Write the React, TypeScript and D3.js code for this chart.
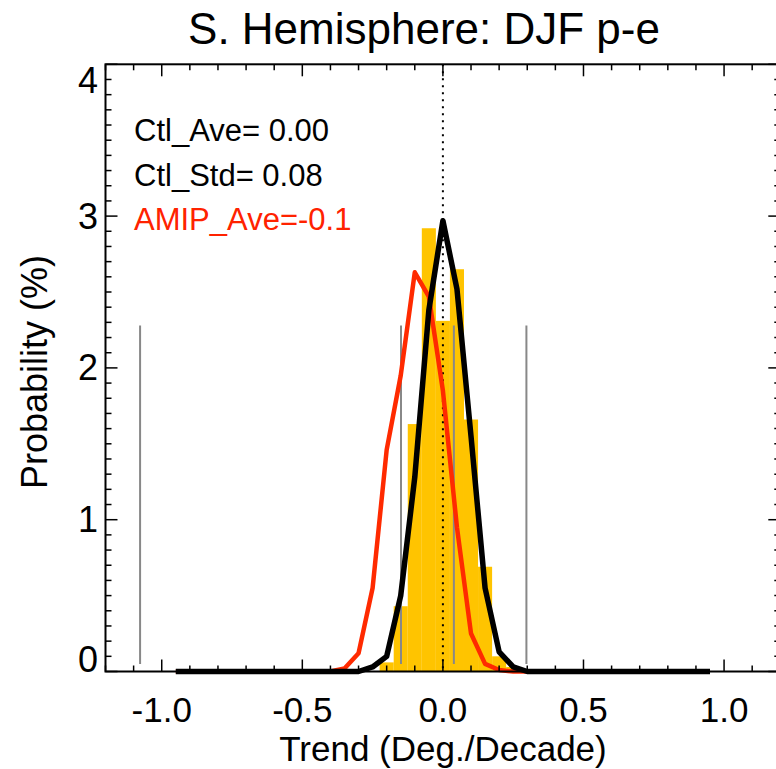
import React from "react";
import * as d3 from "d3";

const TITLE = "S. Hemisphere: DJF p-e";
const X_LABEL = "Trend (Deg./Decade)";
const Y_LABEL = "Probability (%)";

const xMajorTicks = [-1.0, -0.5, 0.0, 0.5, 1.0];
const xTickLabels = ["-1.0", "-0.5", "0.0", "0.5", "1.0"];
const yMajorTicks = [0, 1, 2, 3, 4];
const yTickLabels = ["0", "1", "2", "3", "4"];

// histogram (bin centres, width 0.05)
const barCenters = [-0.2, -0.15, -0.1, -0.05, 0.0, 0.05, 0.1, 0.15, 0.2, 0.25];
const barValues = [0.06, 0.43, 1.63, 2.92, 2.31, 2.65, 1.66, 0.69, 0.1, 0.03];
const barWidth = 0.05;

// PDF curves
const pdfX = [
  -0.95, -0.9, -0.85, -0.8, -0.75, -0.7, -0.65, -0.6, -0.55, -0.5, -0.45, -0.4, -0.35,
  -0.3, -0.25, -0.2, -0.15, -0.1, -0.05, 0.0, 0.05, 0.1, 0.15, 0.2, 0.25, 0.3, 0.35,
  0.4, 0.45, 0.5, 0.55, 0.6, 0.65, 0.7, 0.75, 0.8, 0.85, 0.9, 0.95,
];
const ctlPdf = [
  0, 0, 0, 0, 0, 0, 0, 0, 0, 0, 0, 0, 0,
  0, 0.03, 0.1, 0.5, 1.28, 2.38, 2.97, 2.52, 1.55, 0.55, 0.13, 0.03, 0, 0,
  0, 0, 0, 0, 0, 0, 0, 0, 0, 0, 0, 0,
];
const amipPdf = [
  0, 0, 0, 0, 0, 0, 0, 0, 0, 0, 0, 0, 0.02,
  0.12, 0.55, 1.46, 1.95, 2.63, 2.47, 1.85, 0.95, 0.25, 0.05, 0.01, 0, 0, 0,
  0, 0, 0, 0, 0, 0, 0, 0, 0, 0, 0, 0,
];

// grey vertical markers
const markerX = [-1.077, -0.149, 0.039, 0.297];
const markerTop = 2.28;
const markerBottom = 0.05;

const legendLines = ["Ctl_Ave= 0.00", "Ctl_Std= 0.08", "AMIP_Ave=-0.1"];
const legendColors = ["#000000", "#000000", "#ff2200"];

const FONT = "'Liberation Sans', Arial, Helvetica, sans-serif";

export default function App() {
  const W = 776;
  const H = 769;
  const x = d3.scaleLinear().domain([-1.2, 1.2]).range([105.5, 780.3]);
  const y = d3.scaleLinear().domain([0, 4]).range([671.5, 64.3]);
  const [x0, x1] = x.range();
  const [yb, yt] = y.range();

  const xMinor = x.ticks(24);
  const yMinor = y.ticks(40);
  const isMajor = (v: number, arr: number[]) => arr.some((m) => Math.abs(m - v) < 1e-6);

  const line = d3
    .line<number>()
    .x((_, i) => x(pdfX[i]))
    .y((d) => y(d));

  const majorLen = 12;
  const minorLen = 6;

  return (
    <svg
      width={W}
      height={H}
      style={{ position: "absolute", left: 0, top: 0, background: "#fff" }}
      fontFamily={FONT}
    >
      <rect x={0} y={0} width={W} height={H} fill="#fff" />
      {barCenters.map((c, i) => (
        <rect
          key={"b" + i}
          x={x(c - barWidth / 2)}
          y={y(barValues[i])}
          width={x(c + barWidth / 2) - x(c - barWidth / 2)}
          height={y(0) - y(barValues[i])}
          fill="#ffc400"
        />
      ))}
      <line
        x1={x(0)}
        x2={x(0)}
        y1={yt}
        y2={yb}
        stroke="#000"
        strokeWidth={2}
        strokeDasharray="2,5"
      />
      {markerX.map((m, i) => (
        <line
          key={"m" + i}
          x1={x(m)}
          x2={x(m)}
          y1={y(markerTop)}
          y2={y(markerBottom)}
          stroke="#888"
          strokeWidth={2}
        />
      ))}
      <path d={line(amipPdf) || ""} fill="none" stroke="#ff2a00" strokeWidth={4.5} strokeLinejoin="round" />
      <path d={line(ctlPdf) || ""} fill="none" stroke="#000" strokeWidth={5.5} strokeLinejoin="round" />

      <rect x={x0} y={yt} width={x1 - x0} height={yb - yt} fill="none" stroke="#000" strokeWidth={2} />
      {xMinor.map((v, i) => {
        const len = isMajor(v, xMajorTicks) ? majorLen : minorLen;
        return (
          <g key={"xt" + i}>
            <line x1={x(v)} x2={x(v)} y1={yb} y2={yb - len} stroke="#000" strokeWidth={1.5} />
            <line x1={x(v)} x2={x(v)} y1={yt} y2={yt + len} stroke="#000" strokeWidth={1.5} />
          </g>
        );
      })}
      {yMinor.map((v, i) => {
        const len = isMajor(v, yMajorTicks) ? majorLen : minorLen;
        return (
          <g key={"yt" + i}>
            <line x1={x0} x2={x0 + len} y1={y(v)} y2={y(v)} stroke="#000" strokeWidth={1.5} />
            <line x1={x1} x2={x1 - len} y1={y(v)} y2={y(v)} stroke="#000" strokeWidth={1.5} />
          </g>
        );
      })}
      {xMajorTicks.map((v, i) => (
        <text key={"xl" + i} x={x(v)} y={722} fontSize={35} textAnchor="middle" fill="#000">
          {xTickLabels[i]}
        </text>
      ))}
      {yMajorTicks.map((v, i) => (
        <text
          key={"yl" + i}
          x={98}
          y={Math.min(Math.max(y(v) + 12.5, yt + 29), yb)}
          fontSize={36}
          textAnchor="end"
          fill="#000"
        >
          {yTickLabels[i]}
        </text>
      ))}
      <text x={424} y={44} fontSize={44} textAnchor="middle" fill="#000">
        {TITLE}
      </text>
      <text x={443} y={761} fontSize={35} textAnchor="middle" fill="#000">
        {X_LABEL}
      </text>
      <text
        transform={`translate(47, ${372}) rotate(-90)`}
        fontSize={36}
        textAnchor="middle"
        fill="#000"
      >
        {Y_LABEL}
      </text>
      {legendLines.map((t, i) => (
        <text key={"lg" + i} x={134} y={141 + i * 44.5} fontSize={31} fill={legendColors[i]}>
          {t}
        </text>
      ))}
    </svg>
  );
}
